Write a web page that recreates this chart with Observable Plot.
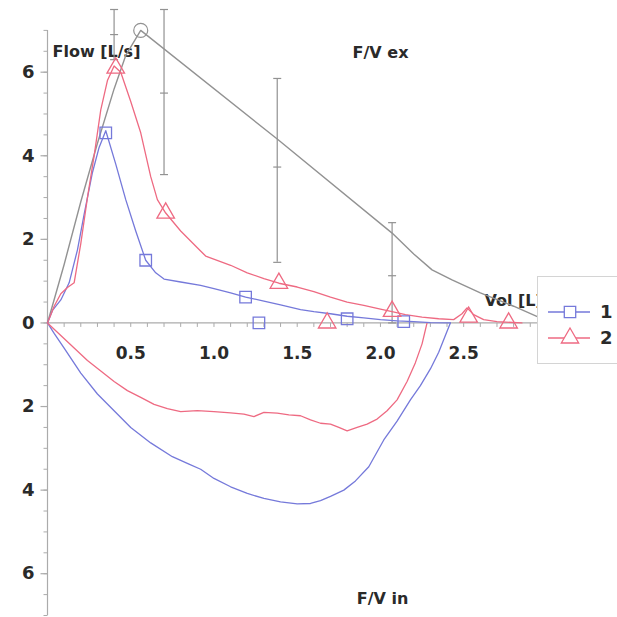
<!DOCTYPE html>
<html>
<head>
<meta charset="utf-8">
<script src="https://cdn.jsdelivr.net/npm/d3@7"></script>
<script src="https://cdn.jsdelivr.net/npm/@observablehq/plot@0.6"></script>
<style>
  html, body { margin: 0; padding: 0; background: #fff; overflow: hidden; }
  #wrap { position: relative; width: 617px; height: 617px; overflow: hidden; }
  #legend { position: absolute; left: 537px; top: 276px; width: 100px; height: 86px;
            border: 1px solid #d4d4d4; background: #fff; }
  #legend svg { position: absolute; left: 0; top: 0; }
</style>
</head>
<body>
<div id="wrap"></div>
<script>
// ---------- data ----------
const seriesNames = ["1", "2"];

// series 1 (blue) expiratory limb
const blueExVol  = [0, 0.03, 0.08, 0.13, 0.18, 0.22, 0.27, 0.31, 0.35, 0.41, 0.47, 0.53, 0.59, 0.65, 0.7, 0.8, 0.92, 1.0, 1.1, 1.19, 1.3, 1.4, 1.52, 1.6, 1.7, 1.8, 1.9, 2.0, 2.1, 2.2, 2.3, 2.42];
const blueExFlow = [0, 0.3, 0.55, 0.96, 1.75, 2.6, 3.6, 4.2, 4.6, 3.8, 2.95, 2.2, 1.5, 1.2, 1.05, 0.98, 0.9, 0.82, 0.72, 0.62, 0.52, 0.43, 0.32, 0.27, 0.22, 0.16, 0.12, 0.08, 0.05, 0.03, 0.01, 0];
// series 1 (blue) inspiratory limb
const blueInVol  = [2.42, 2.39, 2.35, 2.3, 2.24, 2.18, 2.1, 2.02, 1.93, 1.85, 1.78, 1.7, 1.64, 1.58, 1.5, 1.4, 1.3, 1.2, 1.1, 1.0, 0.92, 0.85, 0.75, 0.62, 0.5, 0.4, 0.3, 0.2, 0.1, 0.04, 0];
const blueInFlow = [0, -0.3, -0.7, -1.1, -1.5, -1.84, -2.35, -2.8, -3.44, -3.78, -4.0, -4.15, -4.25, -4.32, -4.33, -4.28, -4.2, -4.08, -3.92, -3.72, -3.5, -3.38, -3.2, -2.87, -2.5, -2.1, -1.7, -1.2, -0.6, -0.25, 0];

// series 2 (red) expiratory limb
const redExVol  = [0, 0.04, 0.08, 0.12, 0.16, 0.2, 0.24, 0.28, 0.32, 0.36, 0.4, 0.44, 0.5, 0.56, 0.62, 0.66, 0.71, 0.8, 0.9, 0.95, 1.1, 1.2, 1.3, 1.39, 1.5, 1.6, 1.7, 1.8, 1.9, 2.0, 2.07, 2.15, 2.25, 2.35, 2.44, 2.49, 2.52, 2.56, 2.62, 2.7, 2.85];
const redExFlow = [0, 0.4, 0.7, 0.85, 0.96, 1.9, 3.0, 4.0, 5.1, 5.8, 6.15, 6.0, 5.3, 4.55, 3.5, 2.95, 2.63, 2.2, 1.8, 1.6, 1.38, 1.2, 1.06, 0.95, 0.86, 0.75, 0.62, 0.5, 0.42, 0.33, 0.27, 0.2, 0.14, 0.1, 0.08, 0.22, 0.36, 0.2, 0.08, 0.03, 0];
// series 2 (red) inspiratory limb
const redInVol  = [2.28, 2.25, 2.21, 2.16, 2.1, 2.04, 1.98, 1.92, 1.86, 1.8, 1.75, 1.7, 1.64, 1.58, 1.52, 1.45, 1.38, 1.3, 1.24, 1.18, 1.1, 1.0, 0.9, 0.8, 0.72, 0.64, 0.56, 0.48, 0.4, 0.32, 0.24, 0.16, 0.08, 0];
const redInFlow = [0, -0.5, -0.95, -1.4, -1.84, -2.1, -2.3, -2.42, -2.5, -2.58, -2.5, -2.42, -2.4, -2.32, -2.22, -2.2, -2.16, -2.14, -2.24, -2.18, -2.15, -2.12, -2.1, -2.12, -2.05, -1.95, -1.78, -1.62, -1.4, -1.15, -0.9, -0.6, -0.3, 0];

// markers
const squareVol  = [0.35, 0.59, 1.19, 1.27, 1.80, 2.14];
const squareFlow = [4.55, 1.5, 0.62, 0.0, 0.1, 0.03];
const triVol  = [0.41, 0.71, 1.39, 1.68, 2.07, 2.53, 2.77];
const triFlow = [6.1, 2.63, 0.95, 0.0, 0.28, 0.14, 0.0];

// predicted curve (gray)
const predVol  = [0, 0.1, 0.2, 0.3, 0.4, 0.47, 0.56, 1.38, 2.07, 2.2, 2.31, 2.43, 2.6, 2.8, 3.0];
const predFlow = [0, 1.4, 2.9, 4.3, 5.6, 6.4, 7.0, 4.4, 2.15, 1.65, 1.27, 1.03, 0.72, 0.4, 0.05];
const pefVol = [0.56], pefFlow = [7.0];

// predicted ranges (error bars)
const errVol  = [0.40, 0.70, 1.38, 2.07];
const errLow  = [6.3, 3.55, 1.45, 0.0];
const errMid  = [6.9, 5.5, 3.73, 1.13];
const errHigh = [7.5, 7.5, 5.85, 2.4];

// axes
const xTickValues = [0.5, 1.0, 1.5, 2.0, 2.5, 3.0];
const xTickLabels = ["0.5", "1.0", "1.5", "2.0", "2.5", "3"];
const yTickValues = [6, 4, 2, 0, -2, -4, -6];
const yTickLabels = ["6", "4", "2", "0", "2", "4", "6"];
const xTitle = "Vol [L]";
const yTitle = "Flow [L/s]";
const topTitle = "F/V ex";
const bottomTitle = "F/V in";

// ---------- build ----------
const zipXY = (xs, ys, extra = {}) => xs.map((x, i) => ({x, y: ys[i], ...extra}));
const blueEx = zipXY(blueExVol, blueExFlow);
const blueIn = zipXY(blueInVol, blueInFlow);
const redEx = zipXY(redExVol, redExFlow);
const redIn = zipXY(redInVol, redInFlow);
const squares = zipXY(squareVol, squareFlow);
const tris = zipXY(triVol, triFlow);
const pred = zipXY(predVol, predFlow);
const pef = zipXY(pefVol, pefFlow);
const errs = errVol.map((x, i) => ({x, lo: errLow[i], mid: errMid[i], hi: errHigh[i]}));
const errCaps = errs.flatMap(d => [{x: d.x, y: d.lo}, {x: d.x, y: d.mid}, {x: d.x, y: d.hi}]);

const xMinor = d3.range(1, 33).map(i => i / 10);
const yMinor = d3.range(-14, 15).map(i => i / 2);

const BLUE = "#7579da";
const RED = "#ee6a82";
const GRAY = "#929292";
const AXIS = "#ababab";

const tickDown = (len) => ({draw(ctx) { ctx.moveTo(0, 0); ctx.lineTo(0, len); }});
const tickLeft = (len) => ({draw(ctx) { ctx.moveTo(0, 0); ctx.lineTo(-len, 0); }});
const capH = {draw(ctx) { ctx.moveTo(-4, 0); ctx.lineTo(4, 0); }};

const chart = Plot.plot({
  width: 617,
  height: 617,
  marginLeft: 47,
  marginRight: 4,
  marginTop: 9,
  marginBottom: 2,
  x: {domain: [0, 3.4], axis: null},
  y: {domain: [-7, 7.5], axis: null},
  style: {fontFamily: "DejaVu Sans, sans-serif", background: "white", overflow: "visible"},
  marks: [
    // axis lines through origin
    Plot.ruleY([0], {x1: 0, x2: 3.35, stroke: AXIS, strokeWidth: 1.2}),
    Plot.ruleX([0], {y1: -7, y2: 7, stroke: AXIS, strokeWidth: 1.2}),
    // ticks
    Plot.dot(xMinor, {x: d => d, y: 0, symbol: tickDown(4), fill: "none", stroke: AXIS, strokeWidth: 1}),
    Plot.dot(yMinor, {x: 0, y: d => d, symbol: tickLeft(4), fill: "none", stroke: AXIS, strokeWidth: 1}),
    Plot.dot(yTickValues, {x: 0, y: d => d, symbol: tickLeft(7), fill: "none", stroke: AXIS, strokeWidth: 1.2}),
    // tick labels
    Plot.text(xTickValues, {x: d => d, y: 0, text: (d, i) => xTickLabels[i], dy: 31, fontSize: 17, fontWeight: "bold", fill: "#2a2a2a"}),
    Plot.text(yTickValues, {x: 0, y: d => d, text: (d, i) => yTickLabels[i], dx: -13, textAnchor: "end", fontSize: 18, fontWeight: "bold", fill: "#2a2a2a"}),
    // titles
    Plot.text([yTitle], {frameAnchor: "top-left", textAnchor: "start", dx: 5, dy: 36, fontSize: 16, fontWeight: "bold", fill: "#2a2a2a"}),
    Plot.text([topTitle], {frameAnchor: "top", dx: 50, dy: 37, fontSize: 16, fontWeight: "bold", fill: "#2a2a2a"}),
    Plot.text([bottomTitle], {frameAnchor: "bottom", dx: 52, dy: -12, fontSize: 16, fontWeight: "bold", fill: "#2a2a2a"}),
    Plot.text([xTitle], {frameAnchor: "right", textAnchor: "start", dx: -129, dy: -12, fontSize: 16, fontWeight: "bold", fill: "#2a2a2a"}),
    // predicted curve & ranges
    Plot.ruleX(errs, {x: "x", y1: "lo", y2: "hi", stroke: GRAY, strokeWidth: 1.2}),
    Plot.dot(errCaps, {x: "x", y: "y", symbol: capH, fill: "none", stroke: GRAY, strokeWidth: 1.2}),
    Plot.line(pred, {x: "x", y: "y", stroke: GRAY, strokeWidth: 1.4}),
    Plot.dot(pef, {x: "x", y: "y", r: 7, fill: "none", stroke: GRAY, strokeWidth: 1.2}),
    // measured loops
    Plot.line(blueIn, {x: "x", y: "y", stroke: BLUE, strokeWidth: 1.3}),
    Plot.line(redIn, {x: "x", y: "y", stroke: RED, strokeWidth: 1.3}),
    Plot.line(blueEx, {x: "x", y: "y", stroke: BLUE, strokeWidth: 1.3}),
    Plot.line(redEx, {x: "x", y: "y", stroke: RED, strokeWidth: 1.3}),
    Plot.dot(squares, {x: "x", y: "y", symbol: "square", r: 6.5, fill: "none", stroke: BLUE, strokeWidth: 1.3}),
    Plot.dot(tris, {x: "x", y: "y", symbol: "triangle", r: 6.5, fill: "none", stroke: RED, strokeWidth: 1.3})
  ]
});

const wrap = document.getElementById("wrap");
wrap.appendChild(chart);

// legend (overlapping the plot at the right edge)
const legend = document.createElement("div");
legend.id = "legend";
const ns = "http://www.w3.org/2000/svg";
const lsvg = document.createElementNS(ns, "svg");
lsvg.setAttribute("width", "100");
lsvg.setAttribute("height", "86");
const rows = [
  {name: seriesNames[0], color: BLUE, sym: d3.symbolSquare},
  {name: seriesNames[1], color: RED, sym: d3.symbolTriangle}
];
rows.forEach((r, i) => {
  const cy = 35 + i * 26;
  const g = document.createElementNS(ns, "g");
  const ln = document.createElementNS(ns, "line");
  ln.setAttribute("x1", 10); ln.setAttribute("x2", 52);
  ln.setAttribute("y1", cy); ln.setAttribute("y2", cy);
  ln.setAttribute("stroke", r.color); ln.setAttribute("stroke-width", 1.3);
  g.appendChild(ln);
  const p = document.createElementNS(ns, "path");
  p.setAttribute("d", d3.symbol(r.sym, 130)());
  p.setAttribute("transform", `translate(32,${cy})`);
  p.setAttribute("fill", "white"); p.setAttribute("stroke", r.color); p.setAttribute("stroke-width", 1.3);
  g.appendChild(p);
  const t = document.createElementNS(ns, "text");
  t.setAttribute("x", 62); t.setAttribute("y", cy);
  t.setAttribute("dy", "0.35em");
  t.setAttribute("font-family", "DejaVu Sans, sans-serif");
  t.setAttribute("font-size", 18); t.setAttribute("font-weight", "bold"); t.setAttribute("fill", "#2a2a2a");
  t.textContent = r.name;
  g.appendChild(t);
  lsvg.appendChild(g);
});
legend.appendChild(lsvg);
wrap.appendChild(legend);
</script>
</body>
</html>
